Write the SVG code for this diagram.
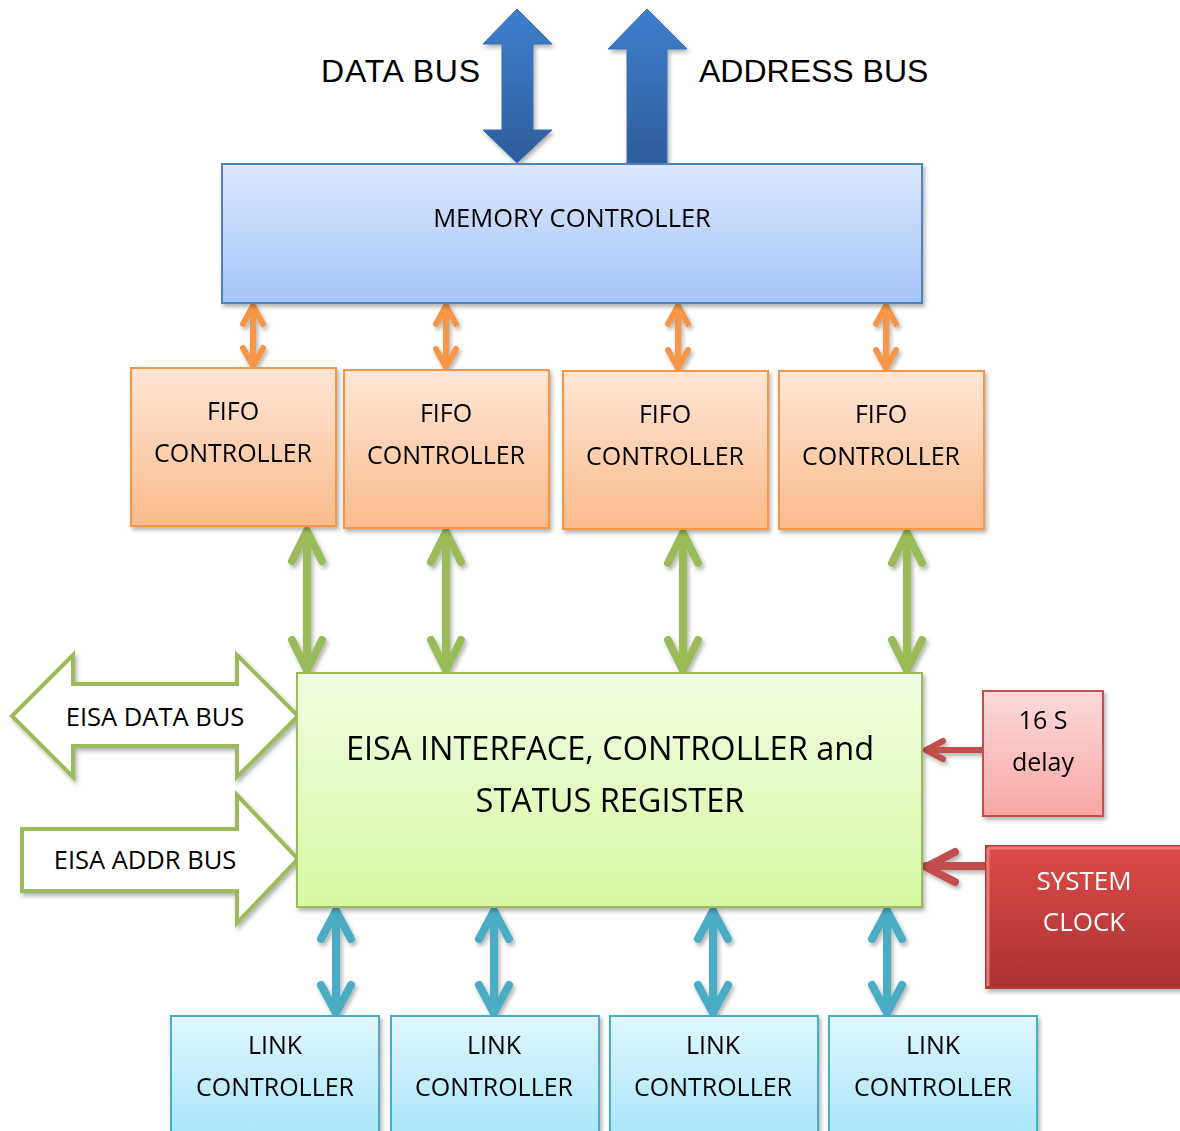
<svg xmlns="http://www.w3.org/2000/svg" width="1180" height="1131" viewBox="0 0 1180 1131">
<defs>
<linearGradient id="gBlue" x1="0" y1="0" x2="0" y2="1"><stop offset="0" stop-color="#dce8fd"/><stop offset="1" stop-color="#a5c3f8"/></linearGradient>
<linearGradient id="gOrange" x1="0" y1="0" x2="0" y2="1"><stop offset="0" stop-color="#fee6d6"/><stop offset="1" stop-color="#fbbb8b"/></linearGradient>
<linearGradient id="gGreen" x1="0" y1="0" x2="0" y2="1"><stop offset="0" stop-color="#f1fce3"/><stop offset="1" stop-color="#d7f8a1"/></linearGradient>
<linearGradient id="gCyan" x1="0" y1="0" x2="0" y2="1"><stop offset="0" stop-color="#e0f6fd"/><stop offset="1" stop-color="#a4e6f8"/></linearGradient>
<linearGradient id="gPink" x1="0" y1="0" x2="0" y2="1"><stop offset="0" stop-color="#fddada"/><stop offset="1" stop-color="#f8a7a6"/></linearGradient>
<linearGradient id="gRed" x1="0" y1="0" x2="0" y2="1"><stop offset="0" stop-color="#de4a47"/><stop offset="1" stop-color="#a83330"/></linearGradient>
<linearGradient id="gBigArrow" x1="0" y1="0" x2="0" y2="1"><stop offset="0" stop-color="#3f7fcd"/><stop offset="1" stop-color="#2d5d9b"/></linearGradient>
<filter id="sh" x="-10%" y="-10%" width="130%" height="130%"><feDropShadow dx="2" dy="3" stdDeviation="2" flood-color="#000" flood-opacity="0.3"/></filter>
<style>
.lbl{font-family:"Open Sans","Noto Sans",sans-serif;fill:#000;text-anchor:middle}
.big{font-family:"Liberation Sans",Arial,sans-serif;font-size:32px;fill:#000}
.s25{font-size:25px}
.s255{font-size:25.5px}
.s26{font-size:26px}
.s32{font-size:32.5px}
.ln{fill:none;stroke-linecap:round;stroke-linejoin:round}
.or{stroke:#f79646;stroke-width:6}
.gr{stroke:#9bbb59;stroke-width:8}
.cy{stroke:#4bacc6;stroke-width:8}
.rd{stroke:#c0504d;stroke-width:6}
.rd2{stroke:#c0504d;stroke-width:8}
</style>
</defs>
<rect width="1180" height="1131" fill="#fff"/>

<g id="connectors" filter="url(#sh)">
<g id="top-bus-arrows">
<path d="M517,9 L552,44 L533,44 L533,130 L552,130 L517,163 L483,130 L502,130 L502,44 L483,44 Z" fill="url(#gBigArrow)" stroke="#3a70b6" stroke-width="1"/>
<path d="M647,9 L687,49 L667,49 L667,163 L627,163 L627,49 L608,49 Z" fill="url(#gBigArrow)" stroke="#3a70b6" stroke-width="1"/>
</g>
<g id="orange-links" class="ln or">
<path d="M253,306 V366 M243,324 L253,306 L263,324 M243,348 L253,366 L263,348"/>
<path d="M446,306 V367 M436,324 L446,306 L456,324 M436,349 L446,367 L456,349"/>
<path d="M678,306 V368 M668,324 L678,306 L688,324 M668,350 L678,368 L688,350"/>
<path d="M886,306 V368 M876,324 L886,306 L896,324 M876,350 L886,368 L896,350"/>
</g>
<g id="green-links" class="ln gr">
<path d="M307,531 V670 M292,561 L307,531 L322,561 M292,640 L307,670 L322,640"/>
<path d="M446,532 V670 M431,562 L446,532 L461,562 M431,640 L446,670 L461,640"/>
<path d="M683,533 V670 M668,563 L683,533 L698,563 M668,640 L683,670 L698,640"/>
<path d="M907,533 V670 M892,563 L907,533 L922,563 M892,640 L907,670 L922,640"/>
</g>
<g id="cyan-links" class="ln cy">
<path d="M336,911 V1013 M321,939 L336,911 L351,939 M321,985 L336,1013 L351,985"/>
<path d="M494,911 V1013 M479,939 L494,911 L509,939 M479,985 L494,1013 L509,985"/>
<path d="M713,911 V1013 M698,939 L713,911 L728,939 M698,985 L713,1013 L728,985"/>
<path d="M887,911 V1013 M872,939 L887,911 L902,939 M872,985 L887,1013 L902,985"/>
</g>
<g id="red-links">
<path class="ln rd" d="M983,750 H926 M943,741 L926,750 L943,759"/>
<path class="ln rd2" d="M986,866 H926 M955,852 L926,867 L955,882"/>
</g>
<g id="eisa-bus-arrows" fill="#fff" stroke="#9bbb59" stroke-width="4" stroke-linejoin="miter">
<path d="M12,716 L73,655 L73,684 L237,684 L237,655 L298,716 L237,777 L237,746 L73,746 L73,777 Z"/>
<path d="M22,829 L237,829 L237,795 L298,859 L237,923 L237,891 L22,891 Z"/>
</g>
</g>

<text class="big" x="321" y="82" textLength="159" lengthAdjust="spacing">DATA BUS</text>
<text class="big" x="699" y="82">ADDRESS BUS</text>

<g id="memory-controller" filter="url(#sh)">
<rect x="222" y="164" width="700" height="139" fill="url(#gBlue)" stroke="#4f81bd" stroke-width="2"/>
<text class="lbl s255" x="572" y="227">MEMORY CONTROLLER</text>
</g>

<g id="fifo1" filter="url(#sh)">
<rect x="131" y="368" width="205" height="158" fill="url(#gOrange)" stroke="#f79646" stroke-width="2"/>
<text class="lbl s25" x="233" y="420">FIFO</text><text class="lbl s25" x="233" y="462">CONTROLLER</text>
</g>
<g id="fifo2" filter="url(#sh)">
<rect x="344" y="370" width="205" height="158" fill="url(#gOrange)" stroke="#f79646" stroke-width="2"/>
<text class="lbl s25" x="446" y="422">FIFO</text><text class="lbl s25" x="446" y="464">CONTROLLER</text>
</g>
<g id="fifo3" filter="url(#sh)">
<rect x="563" y="371" width="205" height="158" fill="url(#gOrange)" stroke="#f79646" stroke-width="2"/>
<text class="lbl s25" x="665" y="423">FIFO</text><text class="lbl s25" x="665" y="465">CONTROLLER</text>
</g>
<g id="fifo4" filter="url(#sh)">
<rect x="779" y="371" width="205" height="158" fill="url(#gOrange)" stroke="#f79646" stroke-width="2"/>
<text class="lbl s25" x="881" y="423">FIFO</text><text class="lbl s25" x="881" y="465">CONTROLLER</text>
</g>

<g id="eisa-interface" filter="url(#sh)">
<rect x="297" y="673" width="625" height="234" fill="url(#gGreen)" stroke="#9bbb59" stroke-width="2"/>
<text class="lbl s32" x="610" y="760">EISA INTERFACE, CONTROLLER and</text>
<text class="lbl s32" x="610" y="812">STATUS REGISTER</text>
</g>

<text class="lbl s255" x="155" y="726">EISA DATA BUS</text>
<text class="lbl s255" x="145" y="869">EISA ADDR BUS</text>

<g id="delay" filter="url(#sh)">
<rect x="983" y="691" width="120" height="125" fill="url(#gPink)" stroke="#c0504d" stroke-width="2"/>
<text class="lbl s25" x="1043" y="729">16 S</text><text class="lbl s25" x="1043" y="771">delay</text>
</g>

<g id="system-clock" filter="url(#sh)">
<rect x="986" y="846" width="200" height="142" fill="url(#gRed)" stroke="#b23c39" stroke-width="2"/>
<path d="M988,848 H1186 M988,848 V986" stroke="#ea7a77" stroke-width="3" fill="none"/>
<text class="lbl s26" x="1084" y="890" style="fill:#fff">SYSTEM</text><text class="lbl s26" x="1084" y="931" style="fill:#fff">CLOCK</text>
</g>

<g id="link1" filter="url(#sh)">
<rect x="171" y="1016" width="208" height="130" fill="url(#gCyan)" stroke="#4bacc6" stroke-width="2"/>
<text class="lbl s25" x="275" y="1054">LINK</text><text class="lbl s25" x="275" y="1096">CONTROLLER</text>
</g>
<g id="link2" filter="url(#sh)">
<rect x="391" y="1016" width="208" height="130" fill="url(#gCyan)" stroke="#4bacc6" stroke-width="2"/>
<text class="lbl s25" x="494" y="1054">LINK</text><text class="lbl s25" x="494" y="1096">CONTROLLER</text>
</g>
<g id="link3" filter="url(#sh)">
<rect x="610" y="1016" width="208" height="130" fill="url(#gCyan)" stroke="#4bacc6" stroke-width="2"/>
<text class="lbl s25" x="713" y="1054">LINK</text><text class="lbl s25" x="713" y="1096">CONTROLLER</text>
</g>
<g id="link4" filter="url(#sh)">
<rect x="829" y="1016" width="208" height="130" fill="url(#gCyan)" stroke="#4bacc6" stroke-width="2"/>
<text class="lbl s25" x="933" y="1054">LINK</text><text class="lbl s25" x="933" y="1096">CONTROLLER</text>
</g>
</svg>
